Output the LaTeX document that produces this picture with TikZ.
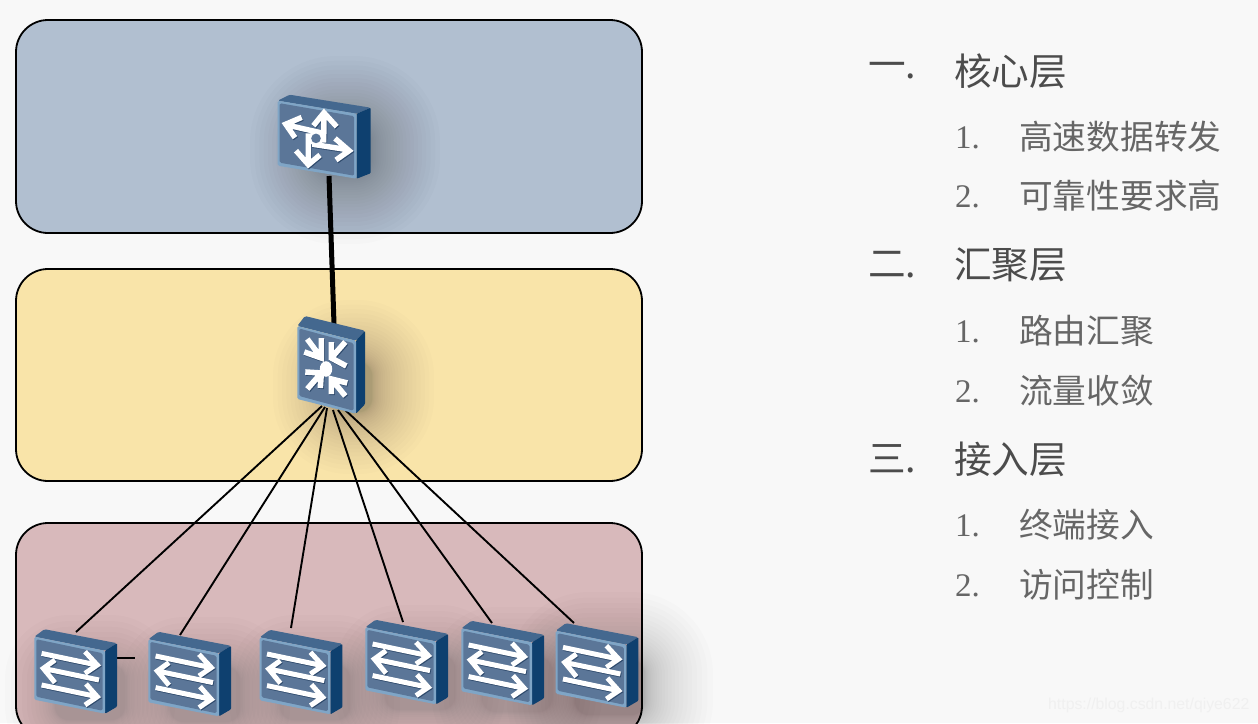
\documentclass[tikz,border=0pt]{standalone}
\usepackage{fontspec}
\newfontfamily\cjkfont{Noto Sans CJK SC}
\newfontfamily\numfont{Liberation Serif}
\newfontfamily\wmfont{Liberation Sans}
\definecolor{pagebg}{HTML}{F8F8F8}
\definecolor{corepanel}{HTML}{B1BFD0}
\definecolor{aggpanel}{HTML}{F9E4A9}
\definecolor{accesspanel}{HTML}{D8B9BB}
\definecolor{facecol}{HTML}{5B7698}
\definecolor{rimcol}{HTML}{7FA5C6}
\definecolor{topcol}{HTML}{44688F}
\definecolor{sidecol}{HTML}{0E406F}
\definecolor{glyphshadow}{HTML}{2E4A6C}
% x1 y1 x2 y2 spread steps opacity
\newcommand{\softshadow}[7]{%
  \foreach \k in {1,...,#6}{%
    \pgfmathsetmacro{\d}{#5*(\k/#6)*(\k/#6)}%
    \pgfmathsetmacro{\rr}{\d+14}%
    \fill[black,opacity=#7,rounded corners=\rr pt] ({#1-\d},{#2-\d}) rectangle ({#3+\d},{#4+\d});
  }}
\newcommand{\glyphline}[2][5pt]{%
  \draw[glyphshadow,line width=#1,miter limit=4,shift={(0.8,1)}] #2;
  \draw[white,line width=#1,miter limit=4] #2;}
% width, height, drop of the front face, depth x, depth y
\newcommand{\devicebody}[5]{%
  \fill[topcol,rounded corners=1.5pt] (0,0) -- (#4*0.85,-#5) -- ({#1+#4},{#3-#5}) -- (#1,#3) -- cycle;
  \fill[sidecol,rounded corners=1pt] (#1,#3) -- ({#1+#4},{#3-#5}) -- ({#1+#4},{#3+#2-#5+0.5}) -- (#1,{#3+#2}) -- cycle;
  \fill[rimcol,rounded corners=1.5pt] (0,0) -- (#1,#3) -- (#1,{#3+#2}) -- (0,#2) -- cycle;
  \fill[facecol,rounded corners=1.5pt] (2,2.5) -- ({#1-2.5},{#3+2.5}) -- ({#1-2.5},{#3+#2-3}) -- (2,{#2-3}) -- cycle;
}
\tikzset{
  x=1pt,y=-1pt,
  panel/.style={draw=black,line width=1.8pt,rounded corners=32pt},
  uplink/.style={black,line width=5pt},
  downlink/.style={black,line width=1.9pt},
  heading/.style={anchor=west,inner sep=0pt,text=black!70,font=\cjkfont\fontsize{37.6}{40}\selectfont},
  subitem/.style={anchor=west,inner sep=0pt,text=black!60,font=\cjkfont\fontsize{33.7}{36}\selectfont},
  subnum/.style={anchor=west,inner sep=0pt,text=black!60,font=\numfont\fontsize{33}{36}\selectfont},
  switchdev/.pic={
    \devicebody{70.7}{63}{14}{12}{7.5}
    \glyphline{(7.3,16.7) -- (62,28.2) (50.7,15) -- (63,28.3) -- (50.7,36.7)}
    \glyphline{(64.7,43.3) -- (10,31.9) (20.7,23.3) -- (9,31.7) -- (20.7,46)}
    \glyphline{(7.3,48.3) -- (62,59.8) (51.7,47.3) -- (63,60) -- (50.7,68.3)}
  },
  routerdev/.pic={
    \devicebody{79}{65}{13}{14}{6}
    \glyphline[5.4pt]{(10,24.5) -- (45.6,32.6) (24,16.7) -- (8,23.5) -- (17.3,37)}
    \glyphline[5.4pt]{(46.3,14) -- (46,42) (35.7,25) -- (46.3,12) -- (59,26)}
    \glyphline[5.4pt]{(70,49) -- (31,43) (57.3,37.7) -- (71.5,50) -- (58.3,59.3)}
    \glyphline[5.4pt]{(30.6,62) -- (30.6,32.6) (18.3,50) -- (30.6,64) -- (42.3,54.3)}
    \fill[white] (38.3,37.7) circle (7.4pt);
    \fill[facecol] (38.3,37.7) circle (4.8pt);
  },
  aggdev/.pic={
    \devicebody{58.7}{73}{14.7}{9}{10}
    \glyphline[5.6pt]{(10,13) -- (24,32) (24,12) -- (24,32) -- (7,26)}
    \glyphline[5.6pt]{(48,16) -- (34,32) (34,16) -- (34,32) -- (49,40)}
    \glyphline[5.6pt]{(10,63) -- (24,47) (8,46) -- (24,47) -- (23,62)}
    \glyphline[5.6pt]{(48,70) -- (34,53) (34,68) -- (34,53) -- (50,57)}
    \fill[white] (28.7,43) ellipse (6.2pt and 7.8pt);
  }
}
\begin{document}
\begin{tikzpicture}
\useasboundingbox (0,0) rectangle (1258,723);
\fill[pagebg] (0,0) rectangle (1258,723);
% panels
\draw[panel,fill=corepanel] (16,20) rectangle (642,233);
\draw[panel,fill=aggpanel] (16,269) rectangle (642,481);
\draw[panel,fill=accesspanel] (16,523) rectangle (642,738);
% soft shadows
\softshadow{322}{128}{368}{172}{72}{30}{0.011}
\softshadow{335}{362}{372}{412}{62}{26}{0.012}
\softshadow{55}{665}{125}{720}{50}{16}{0.012}
\softshadow{170}{667}{240}{722}{50}{16}{0.012}
\softshadow{280}{665}{350}{720}{50}{16}{0.012}
\softshadow{385}{655}{455}{710}{50}{16}{0.012}
\softshadow{482}{657}{552}{712}{50}{16}{0.012}
\softshadow{575}{660}{645}{715}{68}{24}{0.012}
% connector ends
\coordinate (coreout) at (329,176);
\coordinate (aggin) at (334,324);
\coordinate (hub1) at (322,406);
\coordinate (hub2) at (325,407);
\coordinate (hub3) at (327,408);
\coordinate (hub4) at (333,410);
\coordinate (hub5) at (338,410);
\coordinate (hub6) at (343,408);
\coordinate (s1top) at (76,632);
\coordinate (s2top) at (180,635);
\coordinate (s3top) at (291,628);
\coordinate (s4top) at (403,622);
\coordinate (s5top) at (492,623);
\coordinate (s6top) at (574,623);
\coordinate (s1side) at (117,658);
\coordinate (s2side) at (135,658);
% connectors
\draw[uplink] (coreout) -- (aggin);
\draw[downlink] (hub1) -- (s1top);
\draw[downlink] (hub2) -- (s2top);
\draw[downlink] (hub3) -- (s3top);
\draw[downlink] (hub4) -- (s4top);
\draw[downlink] (hub5) -- (s5top);
\draw[downlink] (hub6) -- (s6top);
\draw[downlink] (s1side) -- (s2side);
% devices
\pic (core) at (277.7,100.7) {routerdev};
\pic (agg) at (297.3,326) {aggdev};
\pic (s1) at (34.3,636.7) {switchdev};
\pic (s2) at (148.3,639.3) {switchdev};
\pic (s3) at (259.7,637.3) {switchdev};
\pic (s4) at (365.3,627.3) {switchdev};
\pic (s5) at (461.3,628.3) {switchdev};
\pic (s6) at (555.7,630.7) {switchdev};
% text
\node[heading] (h1n) at (868,71) {一.};
\node[heading] (h1) at (954,71) {核心层};
\node[subnum] (a1n) at (955,138) {1.};
\node[subitem] (a1) at (1019,137) {高速数据转发};
\node[subnum] (a2n) at (955,197) {2.};
\node[subitem] (a2) at (1019,196) {可靠性要求高};
\node[heading] (h2n) at (868,265) {二.};
\node[heading] (h2) at (954,265) {汇聚层};
\node[subnum] (b1n) at (955,332) {1.};
\node[subitem] (b1) at (1019,331) {路由汇聚};
\node[subnum] (b2n) at (955,392) {2.};
\node[subitem] (b2) at (1019,391) {流量收敛};
\node[heading] (h3n) at (868,459) {三.};
\node[heading] (h3) at (954,459) {接入层};
\node[subnum] (c1n) at (955,526) {1.};
\node[subitem] (c1) at (1019,525) {终端接入};
\node[subnum] (c2n) at (955,586) {2.};
\node[subitem] (c2) at (1019,585) {访问控制};
\node[anchor=west,inner sep=0pt,text=black!6,font=\wmfont\fontsize{15.8}{18}\selectfont] (wm) at (1048,705) {https://blog.csdn.net/qiye622};
\end{tikzpicture}
\end{document}
